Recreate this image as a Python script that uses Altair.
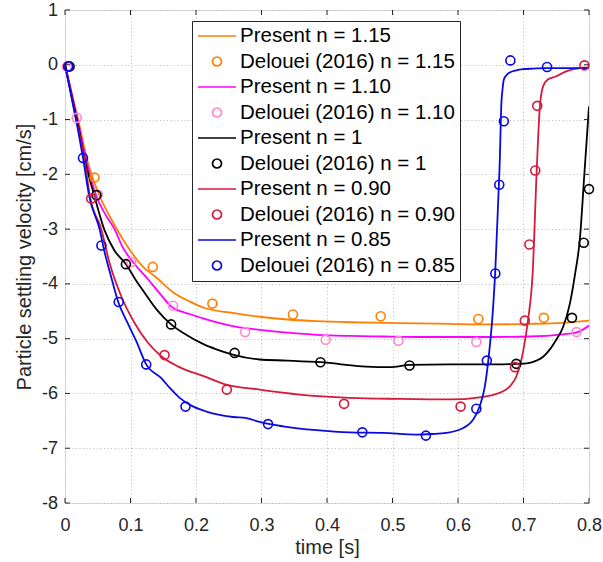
import altair as alt
import numpy as np
import pandas as pd

# ---------------------------------------------------------------- labels / colours
LABELS = [
    "Present n = 1.15", "Delouei (2016) n = 1.15",
    "Present n = 1.10", "Delouei (2016) n = 1.10",
    "Present n = 1", "Delouei (2016) n = 1",
    "Present n = 0.90", "Delouei (2016) n = 0.90",
    "Present n = 0.85", "Delouei (2016) n = 0.85",
]
COLORS = [
    "#FF8000", "#FF8000",
    "#FF00FF", "#FF88CC",
    "#000000", "#000000",
    "#D61A3C", "#D61A3C",
    "#0A0AE0", "#0A0AE0",
]
# legend glyphs: a short line for the model, an open circle for the reference data
SHAPES = ["stroke", "circle"] * 5
SIZES = [1444, 81] * 5

# ---------------------------------------------------------------- present model (lines)
t_115 = [0, 0.01, 0.02, 0.035, 0.053, 0.068, 0.083, 0.099, 0.12, 0.137, 0.167, 0.19,
         0.213, 0.256, 0.297, 0.34, 0.384, 0.435, 0.486, 0.537, 0.587, 0.65, 0.709, 0.76, 0.80]
v_115 = [0, -0.50, -1.00, -1.79, -2.40, -2.76, -3.08, -3.38, -3.70, -3.86, -4.17, -4.32,
         -4.44, -4.53, -4.60, -4.65, -4.68, -4.70, -4.71, -4.72, -4.73, -4.74, -4.73, -4.71, -4.67]

t_110 = [0, 0.01, 0.02, 0.03, 0.048, 0.06, 0.076, 0.088, 0.101, 0.127, 0.143, 0.162, 0.19,
         0.213, 0.26, 0.297, 0.34, 0.384, 0.435, 0.486, 0.537, 0.587, 0.65, 0.709, 0.76,
         0.78, 0.79, 0.80]
v_110 = [0, -0.52, -1.05, -1.62, -2.40, -2.70, -3.01, -3.33, -3.56, -3.92, -4.15, -4.41, -4.55,
         -4.64, -4.78, -4.84, -4.89, -4.93, -4.95, -4.96, -4.97, -4.97, -4.97, -4.96, -4.92,
         -4.89, -4.84, -4.76]

t_100 = [0, 0.01, 0.02, 0.03, 0.045, 0.060, 0.075, 0.0937, 0.108, 0.122, 0.14, 0.162, 0.185,
         0.213, 0.23, 0.256, 0.297, 0.34, 0.39, 0.46, 0.496, 0.526, 0.587, 0.659, 0.689, 0.705,
         0.72, 0.73, 0.74, 0.75, 0.76, 0.771, 0.779, 0.786, 0.793, 0.80]
v_100 = [0, -0.55, -1.10, -1.72, -2.40, -3.01, -3.38, -3.65, -3.93, -4.17, -4.47, -4.74, -4.93,
         -5.11, -5.19, -5.29, -5.38, -5.40, -5.43, -5.51, -5.52, -5.48, -5.47, -5.47, -5.46, -5.45,
         -5.40, -5.33, -5.20, -5.02, -4.80, -4.35, -3.80, -3.19, -1.98, -0.76]

t_090 = [0, 0.01, 0.02, 0.03, 0.038, 0.0556, 0.068, 0.086, 0.106, 0.127, 0.147, 0.173,
         0.213, 0.246, 0.297, 0.358, 0.434, 0.511, 0.587, 0.633, 0.655, 0.669, 0.68,
         0.689, 0.699, 0.707, 0.714, 0.72, 0.725, 0.730, 0.737, 0.75, 0.765, 0.786, 0.80]
v_090 = [0, -0.58, -1.15, -1.75, -2.40, -3.01, -3.62, -4.23, -4.71, -5.08, -5.32, -5.51,
         -5.69, -5.84, -5.93, -6.02, -6.08, -6.10, -6.11, -6.07, -6.02, -5.96, -5.86,
         -5.69, -5.26, -4.65, -3.80, -1.98, -0.76, -0.39, -0.27, -0.21, -0.12, -0.06, -0.05]

t_085 = [0, 0.01, 0.02, 0.0275, 0.037, 0.053, 0.060, 0.070, 0.081, 0.095, 0.109, 0.124, 0.147,
         0.16, 0.175, 0.196, 0.216, 0.236, 0.257, 0.277, 0.297, 0.333, 0.384, 0.435, 0.486,
         0.536, 0.56, 0.582, 0.595, 0.608, 0.616, 0.623, 0.633, 0.641, 0.647, 0.653, 0.657,
         0.661, 0.664, 0.666, 0.668, 0.670, 0.674, 0.679, 0.689, 0.699, 0.715, 0.735, 0.77, 0.80]
v_085 = [0, -0.60, -1.20, -1.70, -2.40, -3.01, -3.40, -3.85, -4.32, -4.70, -5.05, -5.47, -5.72,
         -5.90, -6.08, -6.24, -6.33, -6.39, -6.43, -6.45, -6.52, -6.60, -6.67, -6.71, -6.72,
         -6.75, -6.74, -6.72, -6.69, -6.63, -6.57, -6.48, -6.24, -5.87, -5.32, -4.53, -3.74,
         -2.59, -1.67, -0.76, -0.45, -0.27, -0.19, -0.14, -0.10, -0.08, -0.07, -0.06, -0.06, -0.06]

# ---------------------------------------------------------------- Delouei (2016) (circles)
dt_115 = [0.005, 0.045, 0.134, 0.225, 0.348, 0.482, 0.631, 0.731]
dv_115 = [-0.03, -2.06, -3.69, -4.36, -4.56, -4.59, -4.64, -4.62]

dt_110 = [0.003, 0.018, 0.050, 0.101, 0.165, 0.275, 0.398, 0.509, 0.628, 0.781]
dv_110 = [-0.03, -0.97, -2.37, -3.60, -4.40, -4.88, -5.02, -5.04, -5.06, -4.88]

dt_100 = [0.007, 0.048, 0.093, 0.162, 0.259, 0.390, 0.526, 0.689, 0.774, 0.792, 0.800]
dv_100 = [-0.03, -2.38, -3.64, -4.74, -5.26, -5.43, -5.49, -5.46, -4.62, -3.25, -2.27]

dt_090 = [0.005, 0.040, 0.152, 0.247, 0.426, 0.604, 0.687, 0.702, 0.709, 0.718, 0.721, 0.793]
dv_090 = [-0.03, -2.44, -5.30, -5.93, -6.19, -6.24, -5.52, -4.67, -3.28, -1.93, -0.75, -0.01]

dt_085 = [0.005, 0.0275, 0.0556, 0.082, 0.124, 0.184, 0.310, 0.454, 0.551, 0.628, 0.644,
          0.657, 0.663, 0.670, 0.680, 0.736]
dv_085 = [-0.03, -1.70, -3.30, -4.33, -5.47, -6.24, -6.56, -6.71, -6.77, -6.28, -5.40,
          -3.81, -2.19, -1.03, 0.08, -0.04]

# ---------------------------------------------------------------- axis tick positions
X_TICKS = [0, 0.1, 0.2, 0.3, 0.4, 0.5, 0.6, 0.7, 0.8]
Y_TICKS = [-8, -7, -6, -5, -4, -3, -2, -1, 0, 1]
X_GRID = [float(round(x, 3)) for x in np.arange(0, 0.8001, 0.025)]
Y_GRID = [float(round(y, 2)) for y in np.arange(-8, 1.0001, 0.25)]


def long_table(pairs):
    rows = []
    for label, ts, vs in pairs:
        for t, v in zip(ts, vs):
            rows.append({"series": label, "t": t, "v": v})
    return pd.DataFrame(rows)


lines_df = long_table([
    (LABELS[0], t_115, v_115),
    (LABELS[2], t_110, v_110),
    (LABELS[4], t_100, v_100),
    (LABELS[6], t_090, v_090),
    (LABELS[8], t_085, v_085),
])
points_df = long_table([
    (LABELS[1], dt_115, dv_115),
    (LABELS[3], dt_110, dv_110),
    (LABELS[5], dt_100, dv_100),
    (LABELS[7], dt_090, dv_090),
    (LABELS[9], dt_085, dv_085),
])

W, H = 524, 493
FONT = "Liberation Sans"
AXIS_COLOR = "#262626"
TICK_LEN = 5

xs = alt.Scale(domain=[0, 0.8], nice=False, zero=False)
ys = alt.Scale(domain=[-8, 1], nice=False, zero=False)

x_axis = alt.Axis(
    values=X_GRID, grid=True, gridColor="#bdbdbd", gridDash=[1, 2.5], gridWidth=1,
    domain=False, ticks=False, labelFlush=False, labelOverlap=False,
    labelExpr="abs(datum.value * 10 - round(datum.value * 10)) < 0.000001 ? '' + round(datum.value * 10) / 10 : ''",
    labelFont=FONT, labelFontSize=18, labelColor=AXIS_COLOR, labelPadding=13,
    title="time [s]", titleFont=FONT, titleFontSize=20, titleFontWeight="normal",
    titleColor=AXIS_COLOR, titlePadding=3,
)
y_axis = alt.Axis(
    values=Y_GRID, grid=True, gridColor="#bdbdbd", gridDash=[1, 2.5], gridWidth=1,
    domain=False, ticks=False, labelFlush=False, labelOverlap=False,
    labelExpr="abs(datum.value - round(datum.value)) < 0.000001 ? '' + round(datum.value) : ''",
    labelFont=FONT, labelFontSize=18, labelColor=AXIS_COLOR, labelPadding=7.5,
    title="Particle settling velocity [cm/s]", titleFont=FONT, titleFontSize=20,
    titleFontWeight="normal", titleColor=AXIS_COLOR, titlePadding=7,
)

legend = alt.Legend(
    orient="none", legendX=127, legendY=11, title=None,
    fillColor="white", strokeColor=AXIS_COLOR, padding=5, cornerRadius=0,
    symbolStrokeWidth=1.7, symbolOpacity=1, symbolFillColor="transparent",
    labelOffset=3, labelFont=FONT, labelFontSize=20.5, labelColor="black", labelLimit=400,
    clipHeight=20, rowPadding=4.5,
)
color = alt.Color("series:N", scale=alt.Scale(domain=LABELS, range=COLORS), legend=legend)
shape = alt.Shape("series:N", scale=alt.Scale(domain=LABELS, range=SHAPES), legend=legend)
size = alt.Size("series:N", scale=alt.Scale(type="ordinal", domain=LABELS, range=SIZES),
                legend=legend)

# the shared axes are defined once, on the first layer
lines = alt.Chart(lines_df).mark_line(strokeWidth=1.8, clip=True, interpolate="monotone").encode(
    x=alt.X("t:Q", scale=xs, axis=x_axis),
    y=alt.Y("v:Q", scale=ys, axis=y_axis),
    color=color,
)
points = alt.Chart(points_df).mark_point(
    filled=False, strokeWidth=1.6, opacity=1
).encode(
    x=alt.X("t:Q", scale=xs),
    y=alt.Y("v:Q", scale=ys),
    color=color, shape=shape, size=size,
)

# inward tick marks on all four sides of the box
xt = pd.DataFrame({"t": X_TICKS})
yt = pd.DataFrame({"v": Y_TICKS})
rule = dict(color=AXIS_COLOR, strokeWidth=1)
ticks_bottom = alt.Chart(xt).mark_rule(**rule).encode(
    x=alt.X("t:Q", scale=xs), y=alt.value(H), y2=alt.value(H - TICK_LEN))
ticks_top = alt.Chart(xt).mark_rule(**rule).encode(
    x=alt.X("t:Q", scale=xs), y=alt.value(0), y2=alt.value(TICK_LEN))
ticks_left = alt.Chart(yt).mark_rule(**rule).encode(
    y=alt.Y("v:Q", scale=ys), x=alt.value(0), x2=alt.value(TICK_LEN))
ticks_right = alt.Chart(yt).mark_rule(**rule).encode(
    y=alt.Y("v:Q", scale=ys), x=alt.value(W), x2=alt.value(W - TICK_LEN))

chart = alt.layer(
    lines, points, ticks_bottom, ticks_top, ticks_left, ticks_right
).properties(
    width=W, height=H,
    autosize=alt.AutoSizeParams(type="none"),
    padding={"left": 65, "top": 10, "right": 14, "bottom": 59},
    background="white",
).configure_view(
    stroke=AXIS_COLOR, strokeWidth=1
).configure(
    font=FONT
)

chart.save("out.html", embed_options={"renderer": "svg", "actions": False})
